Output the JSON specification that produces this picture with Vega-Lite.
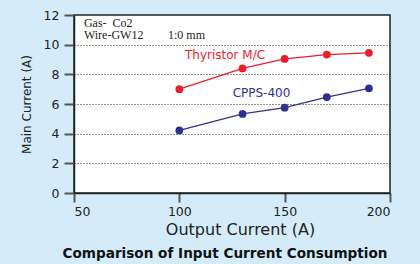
{
  "$schema": "https://vega.github.io/schema/vega-lite/v6.json",
  "width": 316,
  "height": 178,
  "autosize": {"type": "none"},
  "padding": {"left": 74, "top": 15, "right": 30, "bottom": 71},
  "background": "#d4ecf9",
  "config": {
    "font": "DejaVu Sans",
    "view": {"fill": "white", "stroke": "#222222", "strokeWidth": 1.5}
  },
  "title": {
    "text": "Comparison of Input Current Consumption",
    "orient": "bottom",
    "fontSize": 13.6,
    "fontWeight": "bold",
    "color": "#111111",
    "offset": 9,
    "anchor": "middle",
    "dx": -7,
    "font": "DejaVu Sans"
  },
  "datasets": {
    "series": [
      {"x": 100, "y": 7.0, "s": "Thyristor M/C"},
      {"x": 130, "y": 8.4, "s": "Thyristor M/C"},
      {"x": 150, "y": 9.04, "s": "Thyristor M/C"},
      {"x": 170, "y": 9.33, "s": "Thyristor M/C"},
      {"x": 190, "y": 9.45, "s": "Thyristor M/C"},
      {"x": 100, "y": 4.22, "s": "CPPS-400"},
      {"x": 130, "y": 5.33, "s": "CPPS-400"},
      {"x": 150, "y": 5.75, "s": "CPPS-400"},
      {"x": 170, "y": 6.47, "s": "CPPS-400"},
      {"x": 190, "y": 7.06, "s": "CPPS-400"}
    ],
    "labels": [
      {"x": 102.7, "y": 9.04, "t": "Thyristor M/C", "s": "Thyristor M/C"},
      {"x": 125.3, "y": 6.47, "t": "CPPS-400", "s": "CPPS-400"}
    ],
    "notes": [
      {"x": 54.7, "y": 11.2, "t": "Gas-\u00a0 Co2"},
      {"x": 54.7, "y": 10.35, "t": "Wire-GW12"},
      {"x": 94.6, "y": 10.35, "t": "1:0 mm"}
    ]
  },
  "encoding": {
    "x": {
      "field": "x", "type": "quantitative",
      "scale": {"domain": [50, 200], "nice": false, "zero": false},
      "axis": {
        "values": [50, 100, 150, 200],
        "title": "Output Current (A)",
        "titleFont": "DejaVu Sans",
        "titleFontSize": 16,
        "titleFontWeight": "normal",
        "titleColor": "#222222",
        "titlePadding": 4,
        "titleX": 166,
        "labelFont": "DejaVu Sans",
        "labelFontSize": 12.5,
        "labelColor": "#222222",
        "labelPadding": 3,
        "tickSize": 9,
        "tickWidth": 2,
        "tickColor": "#555555",
        "domainColor": "#222222",
        "domainWidth": 1.5,
        "grid": false
      }
    },
    "y": {
      "field": "y", "type": "quantitative",
      "scale": {"domain": [0, 12], "nice": false},
      "axis": {
        "values": [0, 2, 4, 6, 8, 10, 12],
        "title": "Main Current (A)",
        "titleFont": "DejaVu Sans",
        "titleFontSize": 12,
        "titleFontWeight": "normal",
        "titleColor": "#222222",
        "titlePadding": 10,
        "labelFont": "DejaVu Sans",
        "labelFontSize": 12.5,
        "labelColor": "#222222",
        "labelPadding": 5,
        "labelOverlap": false,
        "tickSize": 10,
        "tickWidth": 2,
        "tickColor": "#555555",
        "domainColor": "#222222",
        "domainWidth": 1.5,
        "grid": true,
        "gridDash": [1, 2],
        "gridColor": "#222222",
        "gridWidth": 1,
        "gridOpacity": {"condition": {"test": "datum.value == 0 || datum.value == 12", "value": 0}, "value": 1}
      }
    }
  },
  "layer": [
    {
      "data": {"name": "series"},
      "mark": {"type": "line", "strokeWidth": 1.3},
      "encoding": {
        "color": {
          "field": "s", "type": "nominal",
          "scale": {"domain": ["Thyristor M/C", "CPPS-400"], "range": ["#ec1c2a", "#2e3192"]},
          "legend": null
        }
      }
    },
    {
      "data": {"name": "series"},
      "mark": {"type": "circle", "size": 60, "opacity": 1},
      "encoding": {
        "color": {"field": "s", "type": "nominal", "legend": null}
      }
    },
    {
      "data": {"name": "labels"},
      "mark": {"type": "text", "align": "left", "baseline": "alphabetic", "fontSize": 12, "font": "DejaVu Sans"},
      "encoding": {
        "text": {"field": "t"},
        "color": {"field": "s", "type": "nominal", "legend": null}
      }
    },
    {
      "data": {"name": "notes"},
      "mark": {"type": "text", "align": "left", "baseline": "alphabetic", "fontSize": 12, "font": "Liberation Serif", "color": "#222222"},
      "encoding": {
        "text": {"field": "t"}
      }
    }
  ]
}
